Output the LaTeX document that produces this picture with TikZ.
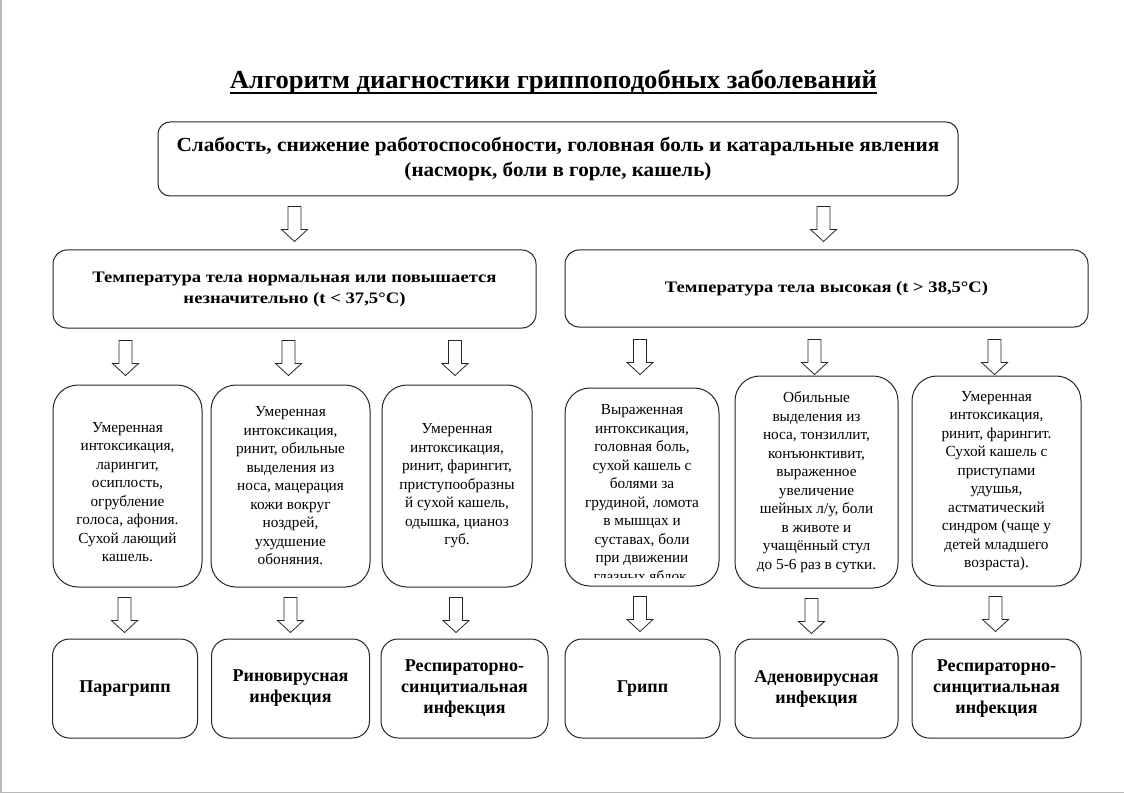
\documentclass[tikz,border=0pt]{standalone}
\usepackage{fontspec}
\usepackage{graphicx}
\setmainfont{Liberation Serif}
\usetikzlibrary{calc}
\tikzset{
  box/.style={draw=black!85, line width=1pt, rounded corners=#1, align=center, inner sep=0pt, fill=white},
  box/.default=12pt,
  smalltxt/.style={font=\fontsize{15.3}{18.5}\selectfont},
  boldtxt/.style={font=\fontsize{18}{21}\selectfont\bfseries},
  darr/.pic={\draw[black!85, line width=0.8pt, fill=white] (-6.5,0) -- (6.5,0) -- (6.5,23) -- (13,23) -- (0,35) -- (-13,23) -- (-6.5,23) -- cycle;},
}
\begin{document}
\begin{tikzpicture}[x=1pt,y=-1pt]
\useasboundingbox (0,0) rectangle (1124,794);
\fill[white] (0,0) rectangle (1124,794);
\draw[gray!55, line width=1.5pt] (1,0) -- (1,792.5) -- (1124,792.5);

% title
\node[inner sep=0pt, anchor=base] (title) at (553.5,89)
  {\resizebox{647pt}{\height}{\fontsize{26}{30}\selectfont\bfseries Алгоритм диагностики гриппоподобных заболеваний}};
\draw[line width=2pt] ($(title.base west)+(0,4.5)$) -- ($(title.base east)+(0,4.5)$);

% top box
\node[box=12pt, minimum width=800pt, minimum height=74pt, font=\fontsize{20}{25}\selectfont\bfseries] (sym) at (558,159)
  {\resizebox{763pt}{\height}{Слабость, снижение работоспособности, головная боль и катаральные явления}\\
   \resizebox{307pt}{\height}{(насморк, боли в горле, кашель)}};

% temperature boxes
\node[box=14pt, minimum width=483pt, minimum height=78pt, font=\fontsize{16}{21}\selectfont\bfseries] (lo) at (294.5,289)
  {\resizebox{404pt}{\height}{Температура тела нормальная или повышается}\\
   \resizebox{222pt}{\height}{незначительно (t < 37,5°C)}};
\node[box=14pt, minimum width=523pt, minimum height=77pt, font=\fontsize{16}{21}\selectfont\bfseries] (hi) at (826.5,288.5)
  {\resizebox{323pt}{\height}{Температура тела высокая (t > 38,5°C)}};

% symptom boxes
\node[box=25pt, minimum width=149pt, minimum height=202pt] (b1) at (127.5,486) {};
\node[smalltxt, align=center, inner sep=0pt] (b1t) at (127.5,492)
  {Умеренная\\интоксикация,\\ларингит,\\осиплость,\\огрубление\\голоса, афония.\\Сухой лающий\\кашель.};
\node[box=25pt, smalltxt, minimum width=159pt, minimum height=202pt] (b2) at (290.5,486)
  {Умеренная\\интоксикация,\\ринит, обильные\\выделения из\\носа, мацерация\\кожи вокруг\\ноздрей,\\ухудшение\\обоняния.};
\node[box=25pt, smalltxt, minimum width=150pt, minimum height=202pt] (b3) at (457,486)
  {Умеренная\\интоксикация,\\ринит, фарингит,\\приступообразны\\й сухой кашель,\\одышка, цианоз\\губ.};
\node[box=25pt, minimum width=154pt, minimum height=198pt] (b4) at (642,487) {};
\begin{scope}
  \clip (566,389) rectangle (718,577);
  \node[smalltxt, align=center, inner sep=0pt] (b4t) at (642,493)
    {Выраженная\\интоксикация,\\головная боль,\\сухой кашель с\\болями за\\грудиной, ломота\\в мышцах и\\суставах, боли\\при движении\\глазных яблок.};
\end{scope}
\node[box=25pt, smalltxt, minimum width=163pt, minimum height=212pt] (b5) at (816.5,482)
  {Обильные\\выделения из\\носа, тонзиллит,\\конъюнктивит,\\выраженное\\увеличение\\шейных л/у, боли\\в животе и\\учащённый стул\\до 5-6 раз в сутки.};
\node[box=25pt, smalltxt, minimum width=169pt, minimum height=210pt] (b6) at (996.5,481)
  {Умеренная\\интоксикация,\\ринит, фарингит.\\Сухой кашель с\\приступами\\удушья,\\астматический\\синдром (чаще у\\детей младшего\\возраста).};

% diagnosis boxes
\node[box=17pt, boldtxt, minimum width=145pt, minimum height=99pt] (c1) at (125,688.5) {Парагрипп};
\node[box=17pt, boldtxt, minimum width=158pt, minimum height=99pt] (c2) at (290.5,688.5) {Риновирусная\\инфекция};
\node[box=17pt, boldtxt, minimum width=167pt, minimum height=99pt] (c3) at (464.5,688.5) {Респираторно-\\синцитиальная\\инфекция};
\node[box=17pt, boldtxt, minimum width=155pt, minimum height=99pt] (c4) at (642.5,688.5) {Грипп};
\node[box=17pt, boldtxt, minimum width=163pt, minimum height=99pt] (c5) at (816.5,688.5) {Аденовирусная\\инфекция};
\node[box=17pt, boldtxt, minimum width=169pt, minimum height=99pt] (c6) at (996.5,688.5) {Респираторно-\\синцитиальная\\инфекция};

% arrows
\pic at ($(sym.south -| lo.center)+(0,10)$) {darr};
\pic at ($(sym.south -| hi.center)+(-3,10)$) {darr};
\foreach \b in {b1,b2,b3} { \pic at ($(lo.south -| \b.center)+(-2,12)$) {darr}; }
\foreach \b in {b4,b5,b6} { \pic at ($(hi.south -| \b.center)+(-2,12)$) {darr}; }
\pic at ($(b1.south)+(-3,10)$) {darr};
\pic at ($(b2.south)+(0,10)$) {darr};
\pic at ($(b3.south)+(-1,10)$) {darr};
\pic at ($(b4.south)+(-2,10)$) {darr};
\pic at ($(b5.south)+(-5,10)$) {darr};
\pic at ($(b6.south)+(-1,10)$) {darr};
\end{tikzpicture}
\end{document}
